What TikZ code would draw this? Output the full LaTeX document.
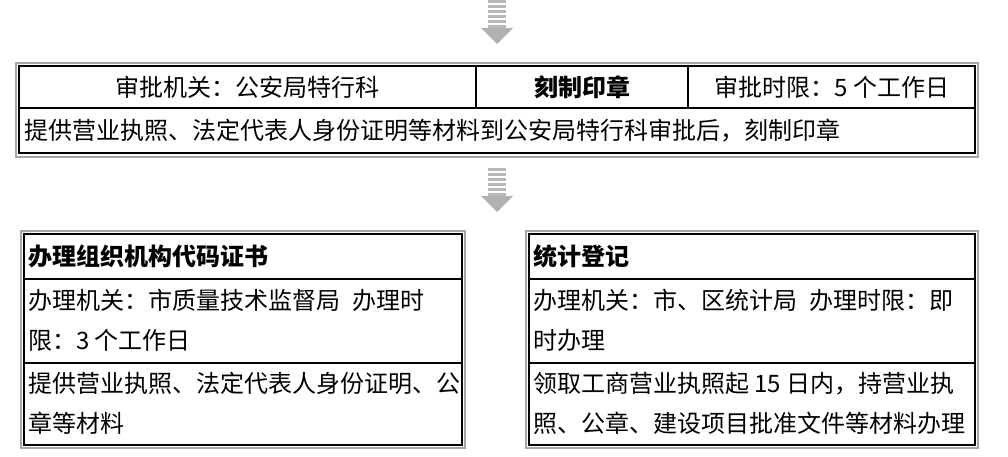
\documentclass[tikz,border=0pt]{standalone}
\usepackage{fontspec}
\newfontfamily\cjk{Noto Sans CJK SC}
\begin{document}
\begin{tikzpicture}[x=0.75pt,y=-0.75pt,
  outer/.style={draw=gray!70,line width=2.2pt},
  inner/.style={draw=black,line width=1pt},
  divline/.style={draw=black,line width=2pt},
  txt/.style={font=\cjk\fontsize{18}{30}\selectfont,inner sep=0pt,anchor=west,align=left},
  ctxt/.style={font=\cjk\fontsize{18}{30}\selectfont,inner sep=0pt},
  btxt/.style={font=\cjk\bfseries\fontsize{18}{30}\selectfont,inner sep=0pt}]
\useasboundingbox (0,0) rectangle (1008,457);
\newcommand{\grayarrow}[2]{%
  \foreach \k in {0,...,5}{\fill[gray!55] (#1-9,#2+\k*5) rectangle (#1+9,#2+\k*5+3);}
  \fill[gray!60] (#1-16,#2+28) -- (#1+16,#2+28) -- (#1,#2+44) -- cycle;}
\grayarrow{497}{0}
\grayarrow{497}{168}
% top box
\draw[outer] (16,63) rectangle (978,157);
\draw[inner] (19,66) rectangle (975,153);
\draw[divline] (19,108) -- (975,108);
\draw[divline] (476,66) -- (476,108);
\draw[divline] (688,66) -- (688,108);
\node[ctxt] (a1) at (247,87) {审批机关：公安局特行科};
\node[btxt] (a2) at (582,87) {刻制印章};
\node[ctxt] (a3) at (832,87) {审批时限：5 个工作日};
\node[txt] (a4) at (24,131) {提供营业执照、法定代表人身份证明等材料到公安局特行科审批后，刻制印章};
% left box
\draw[outer] (21,231) rectangle (465,448);
\draw[inner] (24,234) rectangle (462,445);
\draw[divline] (24,279) -- (462,279);
\draw[divline] (24,363) -- (462,363);
\node[btxt,anchor=west] (b1) at (28,256) {办理组织机构代码证书};
\node[txt] (b2) at (28,320) {办理机关：市质量技术监督局\enspace 办理时\\限：3 个工作日};
\node[txt] (b3) at (28,403) {提供营业执照、法定代表人身份证明、公\\章等材料};
% right box
\draw[outer] (526,231) rectangle (978,448);
\draw[inner] (529,234) rectangle (975,445);
\draw[divline] (529,279) -- (975,279);
\draw[divline] (529,363) -- (975,363);
\node[btxt,anchor=west] (c1) at (533,256) {统计登记};
\node[txt] (c2) at (533,320) {办理机关：市、区统计局\enspace 办理时限：即\\时办理};
\node[txt] (c3) at (533,403) {领取工商营业执照起 15 日内，持营业执\\照、公章、建设项目批准文件等材料办理};
\end{tikzpicture}
\end{document}
